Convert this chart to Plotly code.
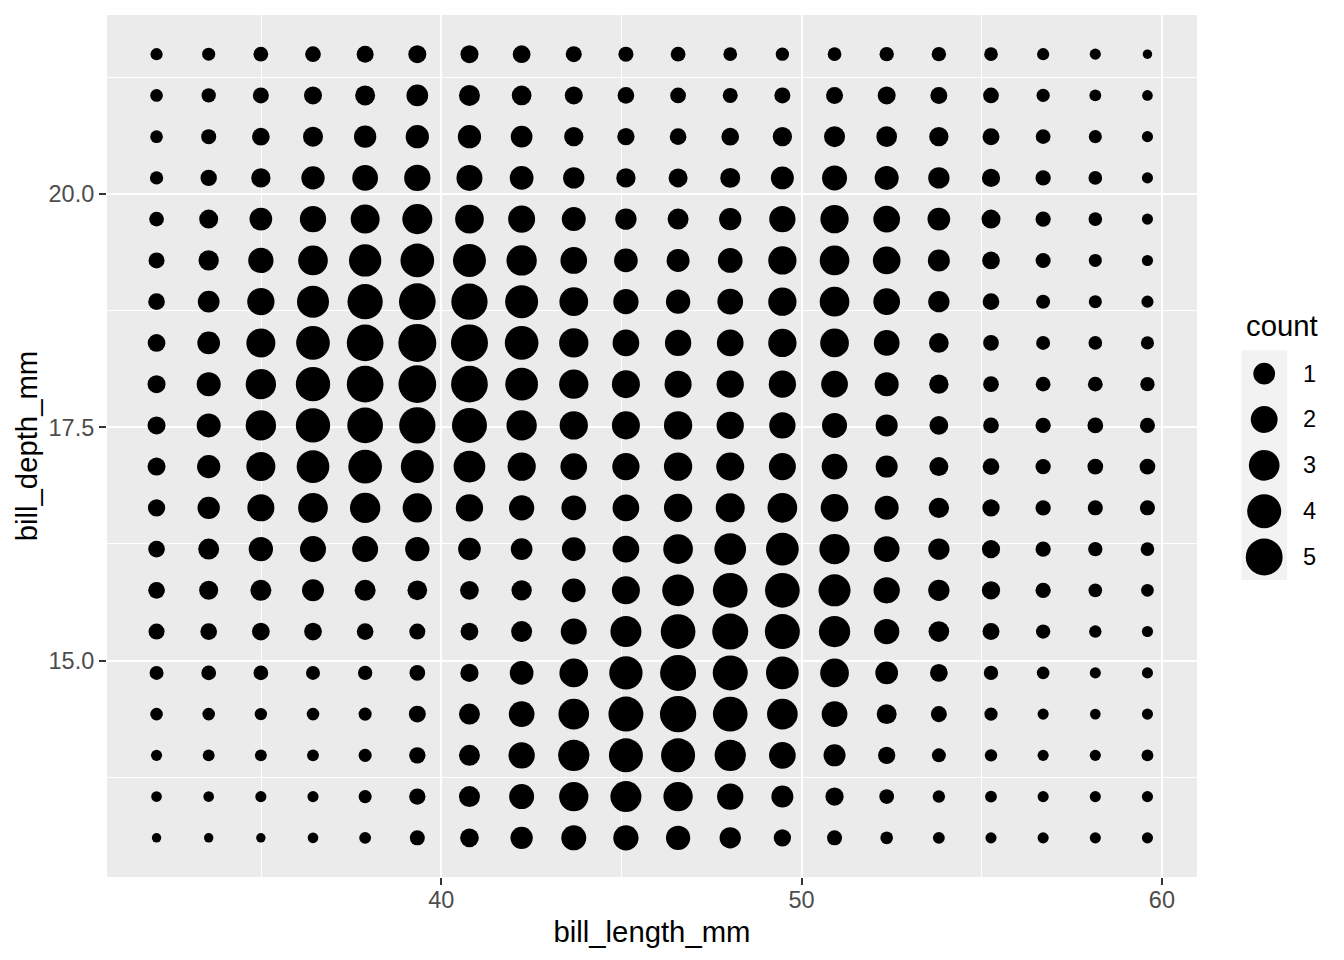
import numpy as np
import plotly.graph_objects as go

# grid of bill_length_mm (x) and bill_depth_mm (y, top row first)
bill_length = [32.1, 33.547, 34.995, 36.442, 37.889, 39.337, 40.784, 42.232, 43.679, 45.126,
               46.574, 48.021, 49.468, 50.916, 52.363, 53.811, 55.258, 56.705, 58.153, 59.6]
bill_depth = [21.5, 21.058, 20.616, 20.174, 19.732, 19.289, 18.847, 18.405, 17.963, 17.521,
              17.079, 16.637, 16.195, 15.753, 15.311, 14.868, 14.426, 13.984, 13.542, 13.1]

# estimated count at each grid point (rows follow bill_depth, columns follow bill_length)
count = [
    [0.05, 0.09, 0.19, 0.26, 0.38, 0.49, 0.49, 0.46, 0.29, 0.21, 0.19, 0.12, 0.10, 0.12, 0.16, 0.16, 0.12, 0.05, 0.02, 0.00],
    [0.07, 0.16, 0.29, 0.49, 0.74, 1.00, 0.89, 0.70, 0.49, 0.35, 0.26, 0.21, 0.29, 0.38, 0.49, 0.38, 0.26, 0.10, 0.04, 0.01],
    [0.07, 0.21, 0.46, 0.74, 1.10, 1.28, 1.28, 1.00, 0.65, 0.41, 0.35, 0.46, 0.65, 0.89, 0.84, 0.65, 0.38, 0.19, 0.09, 0.02],
    [0.10, 0.32, 0.65, 1.28, 1.76, 1.89, 1.82, 1.35, 0.94, 0.65, 0.61, 0.74, 1.22, 1.61, 1.41, 0.94, 0.52, 0.23, 0.12, 0.02],
    [0.19, 0.61, 1.17, 1.89, 2.54, 2.81, 2.46, 2.05, 1.41, 0.94, 0.89, 1.10, 1.89, 2.36, 1.98, 1.17, 0.61, 0.23, 0.12, 0.02],
    [0.29, 0.79, 1.67, 2.72, 3.47, 3.90, 3.68, 2.89, 1.98, 1.35, 1.22, 1.55, 2.36, 2.72, 2.21, 1.05, 0.46, 0.21, 0.09, 0.02],
    [0.35, 1.00, 2.12, 3.38, 4.43, 4.93, 4.78, 3.68, 2.46, 1.67, 1.47, 1.76, 2.36, 2.72, 1.98, 0.94, 0.35, 0.14, 0.09, 0.05],
    [0.46, 1.17, 2.54, 3.90, 4.93, 5.41, 5.04, 3.90, 2.62, 1.98, 1.89, 1.98, 2.36, 2.46, 1.76, 0.70, 0.26, 0.14, 0.12, 0.09],
    [0.49, 1.41, 2.89, 4.10, 4.93, 5.29, 4.93, 3.59, 2.62, 2.29, 2.05, 2.12, 2.12, 1.98, 1.41, 0.65, 0.26, 0.19, 0.19, 0.16],
    [0.49, 1.41, 2.89, 4.10, 4.57, 4.78, 4.33, 2.89, 2.36, 2.29, 2.36, 2.12, 1.89, 1.61, 1.05, 0.57, 0.26, 0.23, 0.26, 0.21],
    [0.49, 1.28, 2.54, 3.59, 3.90, 3.68, 3.29, 2.36, 1.98, 2.12, 2.36, 2.29, 2.05, 1.76, 1.05, 0.61, 0.35, 0.23, 0.26, 0.26],
    [0.41, 1.10, 2.05, 2.72, 2.89, 2.62, 2.12, 1.67, 1.55, 1.98, 2.36, 2.54, 2.72, 2.21, 1.41, 0.79, 0.41, 0.23, 0.21, 0.21],
    [0.35, 0.89, 1.47, 1.82, 1.82, 1.47, 1.17, 1.00, 1.35, 1.98, 2.72, 3.29, 3.59, 2.89, 1.76, 0.94, 0.52, 0.23, 0.16, 0.12],
    [0.35, 0.61, 0.89, 1.05, 0.89, 0.70, 0.57, 0.79, 1.35, 2.29, 3.29, 4.23, 4.23, 3.38, 1.89, 0.94, 0.52, 0.23, 0.12, 0.07],
    [0.29, 0.35, 0.46, 0.46, 0.35, 0.29, 0.46, 0.89, 1.82, 3.08, 4.23, 4.68, 4.33, 3.17, 1.67, 0.84, 0.38, 0.16, 0.06, 0.02],
    [0.14, 0.19, 0.19, 0.14, 0.16, 0.26, 0.52, 1.35, 2.46, 3.78, 4.68, 4.33, 3.59, 2.46, 1.17, 0.46, 0.16, 0.07, 0.02, 0.02],
    [0.07, 0.07, 0.06, 0.07, 0.09, 0.38, 0.89, 1.76, 3.00, 4.33, 4.78, 4.23, 3.00, 1.76, 0.74, 0.29, 0.10, 0.02, 0.01, 0.02],
    [0.02, 0.04, 0.04, 0.04, 0.09, 0.32, 0.89, 1.89, 3.17, 4.00, 4.00, 3.17, 1.98, 1.05, 0.41, 0.14, 0.06, 0.02, 0.02, 0.04],
    [0.01, 0.01, 0.02, 0.02, 0.09, 0.32, 0.89, 1.61, 2.62, 3.08, 2.62, 1.89, 1.05, 0.52, 0.19, 0.06, 0.04, 0.02, 0.02, 0.02],
    [0.00, 0.00, 0.00, 0.01, 0.04, 0.21, 0.57, 1.10, 1.61, 1.67, 1.47, 0.94, 0.41, 0.21, 0.07, 0.04, 0.02, 0.02, 0.02, 0.02],
]

legend_breaks = [1, 2, 3, 4, 5]


def size_scale(v):
    """Area scale (like ggplot2 scale_size): diameter grows with sqrt(count)."""
    v = np.asarray(v, dtype=float)
    return 9.4 + 12.3 * np.sqrt(np.clip(v, 0, None))


X, Y = np.meshgrid(bill_length, bill_depth)
C = np.array(count)

FONT = "Liberation Sans, Arial, sans-serif"

fig = go.Figure()
fig.add_trace(go.Scatter(
    x=X.ravel(), y=Y.ravel(), mode="markers",
    marker=dict(size=size_scale(C.ravel()), color="black", opacity=1, line=dict(width=0)),
    hoverinfo="skip", showlegend=False,
))

# legend keys
fig.add_trace(go.Scatter(
    x=[0.5] * len(legend_breaks), y=legend_breaks, mode="markers",
    marker=dict(size=size_scale(legend_breaks), color="black", opacity=1, line=dict(width=0)),
    xaxis="x2", yaxis="y2", hoverinfo="skip", showlegend=False,
))

W, H = 1344, 960
ml, mr, mt, mb = 107, 10, 15, 83
pw, ph = W - ml - mr, H - mt - mb


def px_x(p):
    return (p - ml) / pw


def px_y(p):
    return (H - mb - p) / ph


annotations = [dict(text="count", xref="paper", yref="paper", x=px_x(1244), y=px_y(325),
                    xanchor="left", yanchor="middle", showarrow=False,
                    font=dict(family=FONT, size=29.3, color="black"))]
for b in legend_breaks:
    annotations.append(dict(text=str(b), xref="paper", yref="y2", x=px_x(1301), y=b,
                            xanchor="left", yanchor="middle", showarrow=False,
                            font=dict(family=FONT, size=23.5, color="black")))

fig.update_layout(
    width=W, height=H,
    margin=dict(l=ml, r=mr, t=mt, b=mb),
    plot_bgcolor="#ebebeb", paper_bgcolor="white",
    showlegend=False,
    font=dict(family=FONT),
    xaxis=dict(
        domain=[0, px_x(1197)], range=[30.725, 60.975],
        tick0=0, dtick=10, showgrid=True, gridcolor="white", gridwidth=2.4,
        minor=dict(dtick=5, tick0=0, showgrid=True, gridcolor="white", gridwidth=1.2),
        ticks="outside", ticklen=7, tickwidth=2, tickcolor="#333333",
        ticklabelstandoff=-5,
        tickfont=dict(family=FONT, size=23.5, color="#4d4d4d"),
        zeroline=False, showline=False,
        title=dict(text="bill_length_mm", font=dict(family=FONT, size=29.3, color="black"), standoff=9),
    ),
    yaxis=dict(
        domain=[0, 1], range=[12.68, 21.92],
        tick0=0, dtick=2.5, tickformat=".1f", showgrid=True, gridcolor="white", gridwidth=2.4,
        minor=dict(dtick=1.25, tick0=0, showgrid=True, gridcolor="white", gridwidth=1.2),
        ticks="outside", ticklen=7, tickwidth=2, tickcolor="#333333",
        tickfont=dict(family=FONT, size=23.5, color="#4d4d4d"),
        zeroline=False, showline=False,
        title=dict(text="bill_depth_mm", font=dict(family=FONT, size=29.3, color="black"), standoff=2),
    ),
    xaxis2=dict(domain=[px_x(1241.7), px_x(1286.7)], range=[0, 1], visible=False,
                anchor="y2", fixedrange=True),
    yaxis2=dict(domain=[px_y(580), px_y(350.7)], range=[5.5, 0.5], visible=False,
                anchor="x2", fixedrange=True),
    shapes=[dict(type="rect", xref="x2 domain", yref="y2 domain", x0=0, x1=1, y0=0, y1=1,
                 fillcolor="#f2f2f2", line=dict(width=0), layer="below")],
    annotations=annotations,
)

fig.write_html("out.html")
